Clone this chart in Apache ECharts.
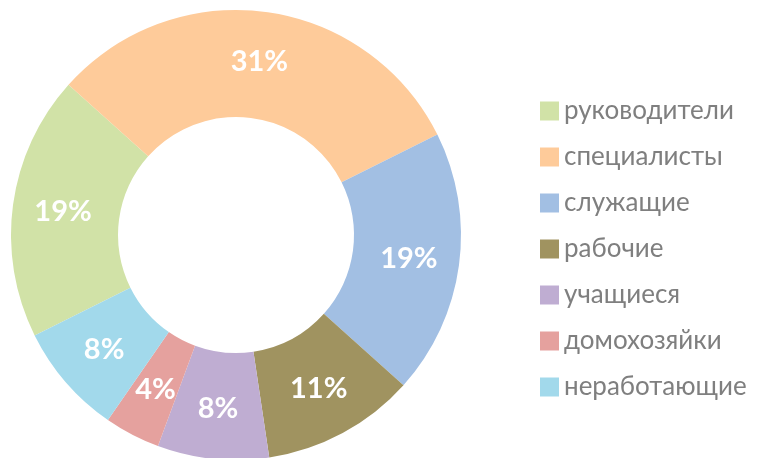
<!DOCTYPE html>
<html>
<head>
<meta charset="utf-8">
<script src="https://cdn.jsdelivr.net/npm/echarts@6/dist/echarts.min.js"></script>
<style>
  html, body { margin: 0; padding: 0; background: #fff; }
  #chart { width: 774px; height: 458px; }
</style>
</head>
<body>
<div id="chart"></div>
<script>
const categories = ['руководители', 'специалисты', 'служащие', 'рабочие', 'учащиеся', 'домохозяйки', 'неработающие']
const shares = [19, 31, 19, 11, 8, 4, 8]
const colors = ['#D1E2A7', '#FECB9A', '#A2BFE3', '#A09360', '#BFADD2', '#E5A19E', '#A2D9EB']

const chart = echarts.init(document.getElementById('chart'))
const option = {
  color: colors,
  animation: false,
  legend: {
    orient: 'vertical',
    left: 535,
    top: 92,
    icon: 'rect',
    itemWidth: 19,
    itemHeight: 19,
    itemGap: 18,
    data: categories,
    textStyle: {
      color: '#7F7F7F',
      fontSize: 26,
      lineHeight: 28,
      fontFamily: 'Lato, "Noto Sans", sans-serif'
    }
  },
  series: [
    {
      type: 'pie',
      center: [236, 235],
      radius: [118, 225],
      startAngle: 206.5,
      clockwise: true,
      avoidLabelOverlap: false,
      label: {
        show: true,
        position: 'inside',
        formatter: '{c}%',
        color: '#fff',
        fontSize: 29,
        fontWeight: 'bold',
        fontFamily: 'Lato, "Noto Sans", sans-serif'
      },
      labelLine: { show: false },
      emphasis: { disabled: true },
      data: categories.map((name, i) => {
        return { name: name, value: shares[i] }
      })
    }
  ]
}
chart.setOption(option)
</script>
</body>
</html>
